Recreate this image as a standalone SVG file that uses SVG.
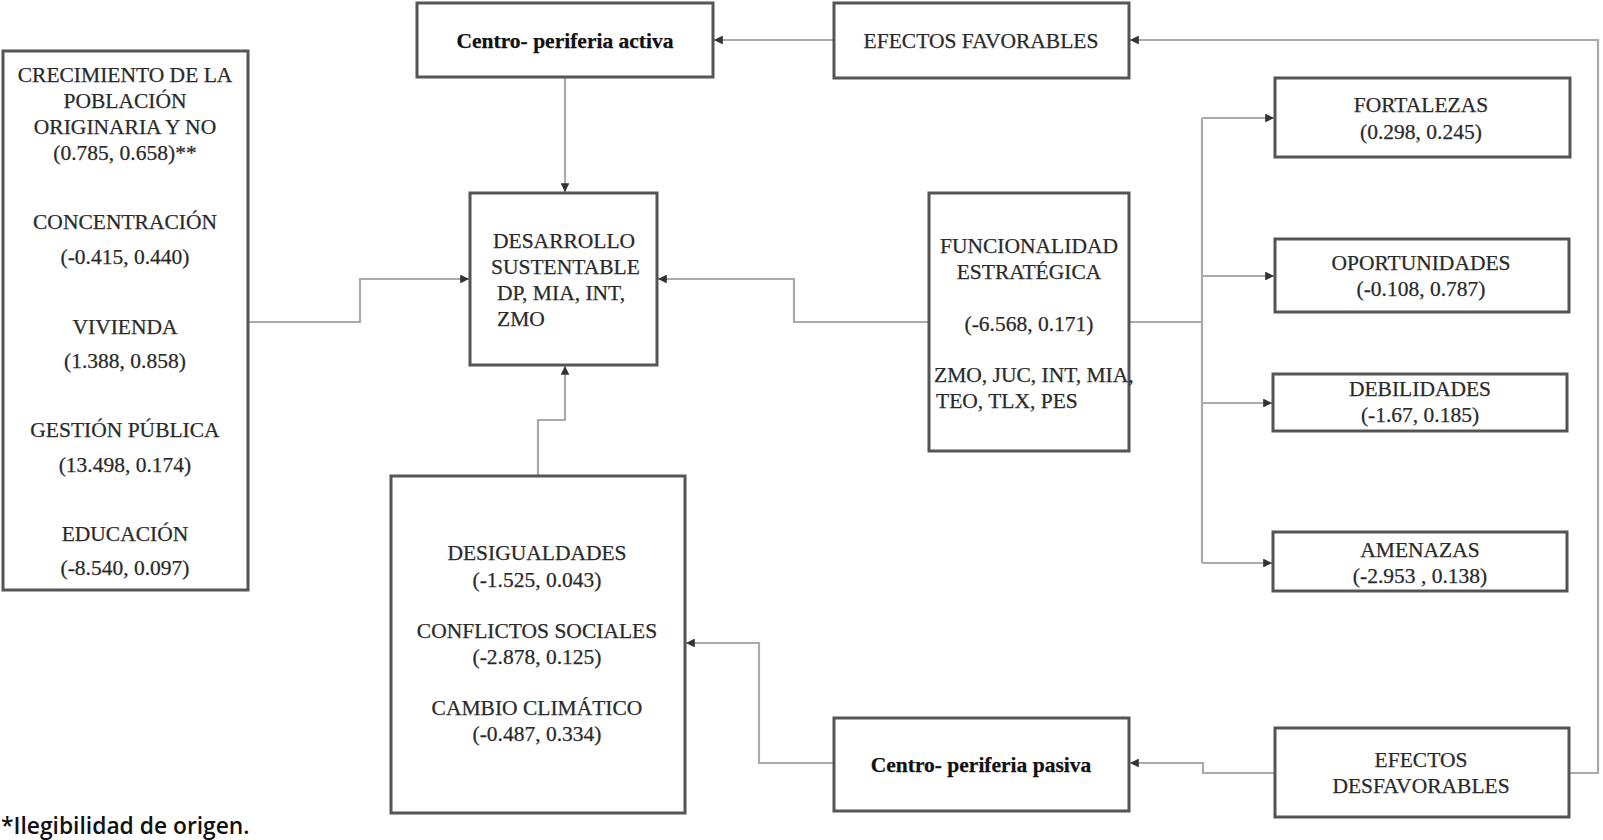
<svg xmlns="http://www.w3.org/2000/svg" width="1603" height="840" viewBox="0 0 1603 840">
<defs>
<marker id="arr" viewBox="0 0 10 10" refX="10" refY="5" markerWidth="4" markerHeight="4" orient="auto" markerUnits="strokeWidth">
<path d="M0,0 L10,5 L0,10 z" fill="#333"/>
</marker>
</defs>
<style>
.box{fill:#fff;stroke:#555;stroke-width:3}
.t{font-family:"Liberation Serif","Times New Roman",serif;font-size:21.5px;fill:#2a2a2a;stroke:#2a2a2a;stroke-width:0.25;text-anchor:middle}
.l{text-anchor:start}
.b{font-weight:bold;fill:#111;stroke:#111}
.c{fill:none;stroke:#aaa;stroke-width:2.2}
.foot{font-family:"Open Sans","Noto Sans",sans-serif;font-size:22.8px;font-weight:600;fill:#111}
</style>
<rect width="1603" height="840" fill="#fff"/>
<g id="connectors">
<path class="c" d="M248,322 H360 V279 H469" marker-end="url(#arr)"/>
<path class="c" d="M929,322 H794 V279 H658" marker-end="url(#arr)"/>
<path class="c" d="M1129,322 H1202"/>
<path class="c" d="M1202,118 V563"/>
<path class="c" d="M1202,118 H1274" marker-end="url(#arr)"/>
<path class="c" d="M1202,276 H1274" marker-end="url(#arr)"/>
<path class="c" d="M1202,403 H1272" marker-end="url(#arr)"/>
<path class="c" d="M1202,563 H1272" marker-end="url(#arr)"/>
<path class="c" d="M565,77 V192" marker-end="url(#arr)"/>
<path class="c" d="M834,40 H714" marker-end="url(#arr)"/>
<path class="c" d="M1569,773 H1598 V40 H1130" marker-end="url(#arr)"/>
<path class="c" d="M1275,773 H1203 V763 H1130" marker-end="url(#arr)"/>
<path class="c" d="M834,763 H759 V643 H686" marker-end="url(#arr)"/>
<path class="c" d="M538,476 V420 H565 V366" marker-end="url(#arr)"/>
</g>
<g id="n-poblacion">
<rect class="box" x="3" y="51" width="245" height="539"/>
<text class="t" x="125" y="82">CRECIMIENTO DE LA</text>
<text class="t" x="125" y="108">POBLACIÓN</text>
<text class="t" x="125" y="134">ORIGINARIA Y NO</text>
<text class="t" x="125" y="160">(0.785, 0.658)**</text>
<text class="t" x="125" y="229">CONCENTRACIÓN</text>
<text class="t" x="125" y="264">(-0.415, 0.440)</text>
<text class="t" x="125" y="334">VIVIENDA</text>
<text class="t" x="125" y="368">(1.388, 0.858)</text>
<text class="t" x="125" y="437">GESTIÓN PÚBLICA</text>
<text class="t" x="125" y="472">(13.498, 0.174)</text>
<text class="t" x="125" y="541">EDUCACIÓN</text>
<text class="t" x="125" y="575">(-8.540, 0.097)</text>
</g>
<g id="n-activa">
<rect class="box" x="417" y="3" width="296" height="74"/>
<text class="t b" x="565" y="48">Centro- periferia activa</text>
</g>
<g id="n-favorables">
<rect class="box" x="834" y="3" width="295" height="75"/>
<text class="t" x="981" y="48">EFECTOS FAVORABLES</text>
</g>
<g id="n-desarrollo">
<rect class="box" x="470" y="193" width="187" height="172"/>
<text class="t l" x="493" y="248">DESARROLLO</text>
<text class="t l" x="491" y="274">SUSTENTABLE</text>
<text class="t l" x="497" y="300">DP, MIA, INT,</text>
<text class="t l" x="497" y="326">ZMO</text>
</g>
<g id="n-funcionalidad">
<rect class="box" x="929" y="193" width="200" height="258"/>
<text class="t" x="1029" y="253">FUNCIONALIDAD</text>
<text class="t" x="1029" y="279">ESTRATÉGICA</text>
<text class="t" x="1029" y="331">(-6.568, 0.171)</text>
<text class="t l" x="934" y="382">ZMO, JUC, INT, MIA,</text>
<text class="t l" x="936" y="408">TEO, TLX, PES</text>
</g>
<g id="n-fortalezas">
<rect class="box" x="1275" y="78" width="295" height="79"/>
<text class="t" x="1421" y="112">FORTALEZAS</text>
<text class="t" x="1421" y="139">(0.298, 0.245)</text>
</g>
<g id="n-oportunidades">
<rect class="box" x="1275" y="239" width="294" height="73"/>
<text class="t" x="1421" y="270">OPORTUNIDADES</text>
<text class="t" x="1421" y="296">(-0.108, 0.787)</text>
</g>
<g id="n-debilidades">
<rect class="box" x="1273" y="374" width="294" height="57"/>
<text class="t" x="1420" y="396">DEBILIDADES</text>
<text class="t" x="1420" y="422">(-1.67, 0.185)</text>
</g>
<g id="n-amenazas">
<rect class="box" x="1273" y="532" width="294" height="59"/>
<text class="t" x="1420" y="557">AMENAZAS</text>
<text class="t" x="1420" y="583">(-2.953 , 0.138)</text>
</g>
<g id="n-desfavorables">
<rect class="box" x="1275" y="728" width="294" height="89"/>
<text class="t" x="1421" y="767">EFECTOS</text>
<text class="t" x="1421" y="793">DESFAVORABLES</text>
</g>
<g id="n-pasiva">
<rect class="box" x="834" y="718" width="295" height="93"/>
<text class="t b" x="981" y="772">Centro- periferia pasiva</text>
</g>
<g id="n-desigualdades">
<rect class="box" x="391" y="476" width="294" height="337"/>
<text class="t" x="537" y="560">DESIGUALDADES</text>
<text class="t" x="537" y="587">(-1.525, 0.043)</text>
<text class="t" x="537" y="638">CONFLICTOS SOCIALES</text>
<text class="t" x="537" y="664">(-2.878, 0.125)</text>
<text class="t" x="537" y="715">CAMBIO CLIMÁTICO</text>
<text class="t" x="537" y="741">(-0.487, 0.334)</text>
</g>
<text class="foot" x="1" y="834">*Ilegibilidad de origen.</text>
</svg>
